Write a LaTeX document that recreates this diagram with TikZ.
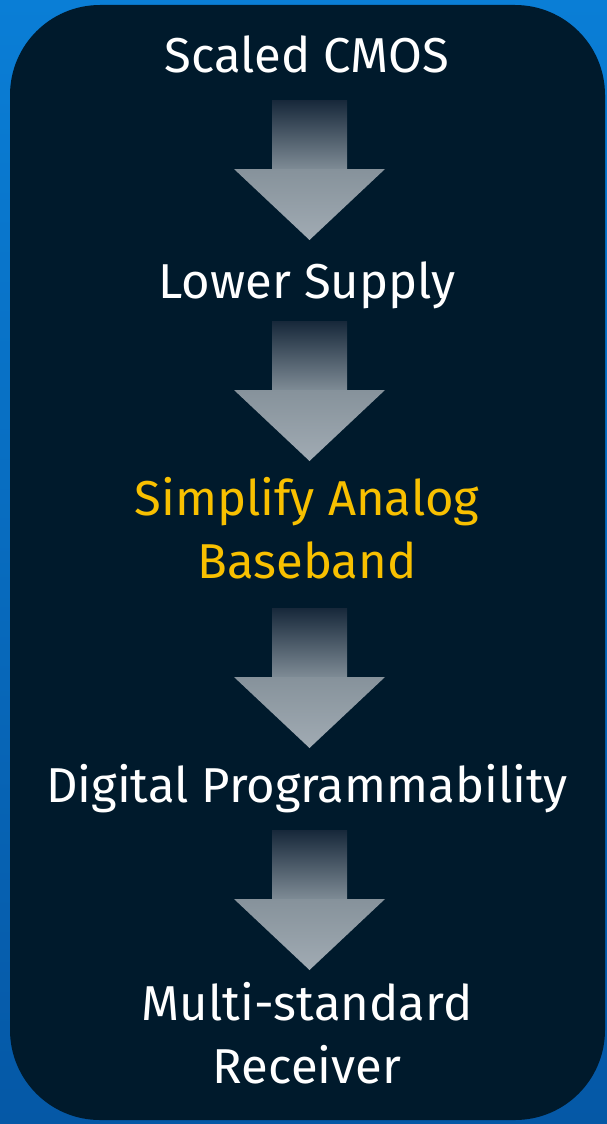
\documentclass[tikz,border=0pt]{standalone}
\usepackage{fontspec}
\setmainfont{Fira Sans}
\usetikzlibrary{positioning}

\definecolor{bgtop}{HTML}{0A7ED6}
\definecolor{bgbot}{HTML}{0558A6}
\definecolor{panel}{HTML}{001A2C}
\definecolor{shafttop}{HTML}{17283A}
\definecolor{shaftbot}{HTML}{7E8B95}
\definecolor{headtop}{HTML}{86929B}
\definecolor{headbot}{HTML}{A1ABB3}
\definecolor{amber}{HTML}{F8C000}

\tikzset{
  txt/.style={text=white, font=\fontsize{49}{63}\selectfont, align=center, anchor=base, inner sep=0pt},
  pics/bigarrow/.style={code={
    \shade[top color=shafttop, bottom color=shaftbot] (-37.5,0) rectangle (37.5,69);
    \shade[top color=headtop, bottom color=headbot] (-75.5,69) -- (75.5,69) -- (0,140) -- cycle;
  }}
}

\begin{document}
\begin{tikzpicture}[x=1pt, y=-1pt]
      \useasboundingbox (0,0) rectangle (607,1124);
      \shade[top color=bgtop, bottom color=bgbot] (0,0) rectangle (607,1124);
      \fill[panel, rounded corners=90] (10,5) rectangle (605,1120);

      % base of a two-line node is its last line
      \node[txt] (cmos) at (307,72) {Scaled CMOS};
      \node[txt] (supply) at (307,298) {Lower Supply};
      \node[txt, text=amber] (analog) at (307,578) {Simplify Analog\\Baseband};
      \node[txt] (digital) at (307,802) {Digital Programmability};
      \node[txt] (multi) at (307,1083) {Multi-standard\\Receiver};

      \coordinate (a1) at (309.5,100);
      \coordinate (a2) at (309.5,321);
      \coordinate (a3) at (309.5,608);
      \coordinate (a4) at (309.5,830);
      \foreach \a in {a1,a2,a3,a4}
        \pic at (\a) {bigarrow};
\end{tikzpicture}
\end{document}
